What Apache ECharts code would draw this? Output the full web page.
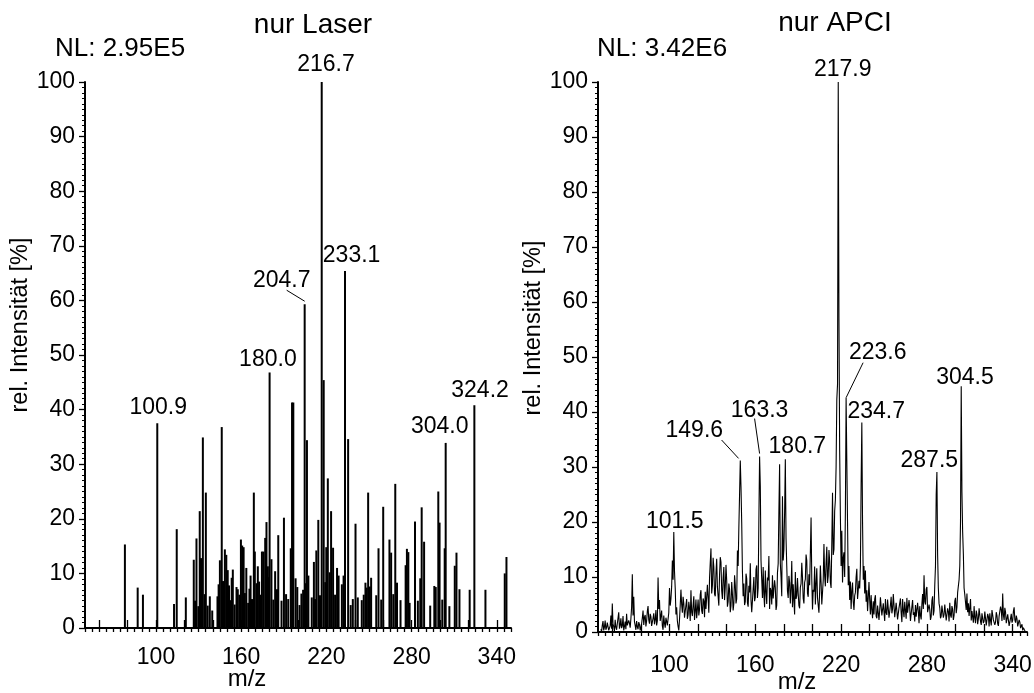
<!DOCTYPE html>
<html><head><meta charset="utf-8">
<script src="https://cdn.jsdelivr.net/npm/echarts@6/dist/echarts.min.js"></script>
<style>html,body{margin:0;padding:0;background:#fff}#c{width:1034px;height:693px}</style>
</head><body><div id="c"></div>
<script>
// ---------- DATA ----------
const titles = ['nur Laser', 'nur APCI'];
const nlTexts = ['NL: 2.95E5', 'NL: 3.42E6'];
const xAxisName = 'm/z';
const yAxisName = 'rel. Intensität [%]';
const xTickLabels = [100, 160, 220, 280, 340];
const xMajorTicks = [60, 80, 100, 120, 140, 160, 180, 200, 220, 240, 260, 280, 300, 320, 340];

// left panel: centroid (stick) spectrum
const laserMz = [78.1, 87.1, 90.8, 100.9, 112.7, 114.6, 121.0, 126.6, 127.5, 128.5, 129.8, 130.8, 131.7, 133.0, 135.1, 137.9, 143.3, 145.0, 146.3, 147.2, 148.5, 149.5, 150.5, 151.4, 154.1, 156.7, 157.6, 158.7, 159.8, 160.7, 161.7, 163.6, 166.6, 168.9, 169.6, 170.8, 171.7, 172.6, 174.6, 175.7, 176.9, 177.8, 178.8, 180.0, 181.3, 186.1, 190.1, 194.9, 195.8, 196.7, 199.5, 203.6, 204.7, 206.3, 207.3, 212.0, 212.9, 214.3, 216.7, 218.1, 219.2, 219.9, 221.0, 223.3, 224.7, 227.5, 228.6, 232.1, 233.1, 235.3, 240.5, 242.1, 246.3, 247.5, 248.4, 249.4, 250.6, 251.5, 256.7, 260.0, 264.4, 265.6, 268.5, 269.7, 275.8, 276.7, 277.7, 278.6, 282.4, 286.1, 287.1, 288.8, 296.0, 297.0, 298.8, 299.7, 303.3, 304.0, 310.4, 311.6, 313.7, 320.9, 324.2, 332.0, 345.6, 346.8,
  132.2, 134.2, 136.4, 139.6, 144.1, 152.7, 153.3, 155.4, 162.6, 164.9, 165.8, 167.6, 173.6, 179.4, 182.6, 183.9, 185.2, 188.4, 191.6, 193.1, 198.3, 201.1, 202.4, 205.6, 209.7, 211.2, 215.5, 222.3, 226.1, 230.9, 237.1, 238.6, 244.9, 255.1, 258.6, 267.1, 272.2, 284.4, 293.1, 301.6, 306.6];
const laserInt = [15.3, 7.4, 6.1, 37.5, 4.4, 18.1, 5.6, 12.5, 5.0, 16.4, 4.0, 21.4, 12.8, 34.9, 24.8, 5.8, 5.8, 12.4, 36.8, 8.6, 14.4, 13.4, 10.6, 7.8, 10.7, 7.5, 7.1, 6.1, 16.2, 15.1, 14.8, 11.0, 9.6, 24.8, 14.0, 8.2, 11.3, 8.5, 14.0, 14.0, 16.5, 19.4, 11.3, 46.8, 12.6, 17.0, 20.2, 14.6, 41.3, 41.3, 7.5, 7.0, 59.3, 34.4, 9.6, 5.3, 14.2, 19.8, 100, 45.4, 8.4, 14.8, 27.4, 21.4, 14.7, 11.0, 9.6, 9.6, 65.4, 34.6, 19.1, 5.6, 6.1, 8.3, 7.4, 24.8, 7.6, 9.2, 14.6, 22.2, 16.2, 13.8, 26.4, 8.3, 11.5, 14.5, 13.9, 4.6, 19.5, 9.1, 22.1, 15.8, 7.7, 7.5, 25.0, 19.3, 14.6, 33.9, 11.4, 13.8, 7.1, 7.0, 40.8, 7.0, 10.0, 13.0,
  9.0, 6.2, 4.1, 3.2, 8.0, 5.1, 9.2, 4.3, 6.4, 4.6, 7.2, 5.3, 6.1, 9.3, 5.2, 10.4, 7.1, 5.0, 6.2, 5.3, 9.1, 4.2, 6.3, 8.2, 5.6, 12.1, 6.0, 10.2, 6.1, 8.0, 4.2, 5.3, 5.1, 6.0, 5.2, 6.2, 5.1, 5.0, 4.1, 5.2, 4.0];
const laserPeakLabels = [100.9, 180.0, 204.7, 216.7, 233.1, 304.0, 324.2];

// right panel: profile spectrum sampled every 0.5 m/z from 52.0 to 349.5
const apciMzStart = 52;
const apciMzStep = 0.5;
const apciInt = [
0.5,0.1, 1.2,2.0, 0.3,0.9, 2.1,0.4, 0.8,1.7, 1.5,0.3, 0.2,1.1, 3.0,0.6, 5.2,1.4, 1.0,0.2,
2.2,0.9, 0.4,1.5, 1.8,3.6, 0.6,1.2, 2.5,0.7, 1.1,2.9, 0.3,1.0, 1.9,0.5, 3.3,1.2, 0.9,2.1,
1.6,0.8, 2.4,4.5, 10.5,3.0, 6.4,1.9, 1.2,0.4, 2.0,1.0, 0.5,1.8, 1.4,0.3, 0.2,1.5, 2.6,3.9,
1.3,2.7, 3.1,1.0, 2.0,3.8, 4.7,2.2, 1.5,3.3, 2.8,1.1, 1.0,2.5, 3.4,1.4, 2.2,4.0, 1.2,2.0,
9.9,4.2, 5.8,2.0, 2.3,3.9, 1.1,0.4, 3.0,1.6, 0.8,2.6, 2.4,1.2, 1.0,3.5, 8.0,4.8, 6.0,8.2,
13.0,9.5, 18.2,11.0, 8.0,3.2, 4.5,2.0, 1.0,0.3, 2.3,4.8, 7.7,5.0, 3.5,6.4, 5.2,2.6, 2.8,4.9,
6.0,2.4, 3.1,5.5, 4.4,2.0, 7.6,3.6, 2.9,4.8, 6.5,2.2, 3.8,5.9, 2.5,4.1, 5.9,3.0, 4.1,6.8,
7.6,3.9, 3.3,6.1, 5.6,2.7, 7.3,4.2, 4.0,8.6, 6.2,3.5, 9.8,12.6, 15.2,7.0, 8.4,13.5, 11.8,6.9,
6.5,10.8, 13.3,8.2, 7.9,4.8, 10.4,13.6, 12.7,7.5, 6.0,9.9, 11.8,5.8, 8.2,12.2, 9.4,4.6, 5.5,8.8,
7.7,3.6, 4.8,9.1, 6.9,3.9, 5.2,10.3, 8.5,5.2, 6.0,14.8, 12.0,19.0, 25.0,31.2, 26.4,19.9, 11.0,6.5,
8.8,4.9, 5.5,10.6, 9.7,5.3, 4.6,8.4, 7.2,12.5, 5.8,3.6, 3.9,7.8, 10.0,5.6, 6.3,11.4, 12.1,6.2,
8.0,20.5, 31.9,26.6, 13.0,9.5, 6.2,11.8, 6.8,4.5, 11.2,7.3, 5.1,9.9, 9.4,13.8, 4.2,8.0, 7.5,5.0,
10.3,6.1, 5.8,9.4, 8.1,4.0, 4.9,10.8, 12.4,22.0, 30.5,12.5, 10.0,6.5, 24.7,13.0, 15.0,21.8, 31.4,17.0,
12.0,7.4, 6.2,10.2, 9.0,5.2, 7.9,12.9, 4.5,8.7, 5.8,3.2, 10.9,6.0, 6.6,9.8, 7.0,4.8, 4.3,8.1,
8.8,12.6, 10.0,6.1, 5.2,9.0, 9.6,14.1, 13.0,7.0, 6.4,10.5, 8.5,14.5, 20.8,9.6, 4.1,7.7, 7.3,11.9,
5.0,8.8, 11.6,6.2, 6.1,3.5, 7.4,12.1, 9.0,5.0, 5.3,9.4, 16.0,10.2, 8.3,12.6, 15.5,8.9, 10.2,14.9,
13.0,9.0, 8.0,16.2, 25.3,14.0, 15.0,22.0, 24.0,30.0, 42.3,45.0, 100,56.8, 32.9,21.1, 12.0,18.4, 9.0,13.5,
14.5,10.0, 22.0,42.6, 31.1,20.0, 8.5,12.0, 5.8,9.2, 4.2,7.5, 9.0,5.5, 4.0,6.6, 7.2,10.0, 11.5,6.0,
6.0,9.3, 7.9,12.0, 26.9,38.1, 20.0,9.5, 12.0,7.0, 11.2,5.5, 7.6,3.8, 6.3,9.1, 5.8,3.2, 6.7,4.0,
2.5,5.6, 3.2,6.0, 6.7,2.9, 2.5,4.8, 4.9,2.2, 4.0,6.3, 6.1,3.0, 2.8,5.2, 5.4,2.0, 6.0,3.5,
3.1,5.9, 5.6,2.6, 2.4,4.9, 6.4,3.4, 4.2,6.9, 6.8,2.7, 3.0,5.3, 5.1,2.3, 2.2,4.4, 4.6,6.1,
3.5,1.8, 6.0,3.9, 2.7,5.5, 5.2,2.4, 6.2,3.5, 3.3,5.8, 4.4,2.0, 2.1,4.6, 5.8,3.1, 3.6,1.9,
4.9,2.8, 2.6,5.3, 3.8,1.6, 4.7,3.0, 2.3,5.1, 6.9,4.2, 10.3,5.5, 5.0,7.8, 8.2,3.6, 3.4,5.0,
4.1,2.2, 2.8,5.7, 6.5,3.0, 3.9,8.5, 12.0,25.0, 29.1,14.0, 8.0,5.2, 4.4,2.5, 2.9,4.8, 5.0,2.6,
3.2,5.0, 4.8,2.1, 2.0,4.3, 3.7,1.9, 5.3,3.1, 2.6,4.7, 4.1,2.2, 3.0,5.6, 6.2,3.4, 4.5,7.2,
7.0,9.5, 12.0,20.0, 44.7,25.4, 18.2,14.2, 8.0,6.8, 7.0,4.0, 7.0,3.6, 5.2,2.9, 4.4,6.0, 2.1,3.8,
3.8,1.7, 4.7,2.6, 1.6,3.9, 3.2,1.4, 2.4,4.3, 4.0,1.9, 1.3,3.4, 3.5,1.6, 2.0,3.7, 3.9,1.2,
1.5,3.3, 2.8,1.0, 3.4,2.1, 1.2,4.0, 4.2,2.2, 2.5,1.3, 1.8,3.6, 3.0,1.5, 1.1,2.9, 2.7,4.6,
4.0,2.0, 7.0,3.1, 2.2,4.4, 3.6,1.6, 1.4,3.2, 2.9,1.1, 1.0,2.5, 3.3,1.7, 2.1,3.8, 4.5,2.2,
1.7,3.0, 2.4,1.0, 0.9,2.2, 1.8,0.7, 0.6,1.4, 0.3,0.8, 0.5,0.2, 0.1,0.0
];
const apciPeakLabels = [101.5, 149.6, 163.3, 180.7, 217.9, 223.6, 234.7, 287.5, 304.5];

// ---------- LAYOUT / STYLE (pixel offsets of peak annotations) ----------
const FONT = '"Liberation Sans", Arial, Helvetica, sans-serif';
const laserLabelLayout = {
  '100.9': {dx: 1, dy: -15.6},
  '180.0': {dx: -1.7, dy: -13.2},
  '204.7': {dx: -23, dy: -24, leader: [0, -3, -18, -14]},
  '216.7': {dx: 4.3, dy: -17},
  '233.1': {dx: 6.6, dy: -15.7},
  '304.0': {dx: -6, dy: -16},
  '324.2': {dx: 5.7, dy: -15}
};
const apciLabelLayout = {
  '101.5': {dx: 1, dy: -10},
  '149.6': {dx: -46, dy: -30, leader: [-1.7, -2, -18.7, -20.4]},
  '163.3': {dx: 0, dy: -46, leader: [0, -3, -5, -38]},
  '180.7': {dx: 12, dy: -12.6},
  '217.9': {dx: 4.5, dy: -12},
  '223.6': {dx: 31.6, dy: -44.7, leader: [0, 0, 17, -35]},
  '234.7': {dx: 14.4, dy: -10.7},
  '287.5': {dx: -7.6, dy: -11},
  '304.5': {dx: 3.8, dy: -8}
};

// ---------- BUILD ----------
const laserData = laserMz.map((m, i) => [m, laserInt[i]]);
const apciData = apciInt.map((v, i) => [apciMzStart + i * apciMzStep, v]);

function laserApex(label) {
  const i = laserMz.findIndex(m => Math.abs(m - label) < 0.05);
  return [laserMz[i], laserInt[i], label];
}
function apciApex(label) {
  let best = null;
  apciData.forEach(p => {
    if (Math.abs(p[0] - label) <= 1.6 && (!best || p[1] > best[1])) best = p;
  });
  return [best[0], best[1], label];
}

function labelSeries(xi, yi, data, layout) {
  return {
    type: 'custom', xAxisIndex: xi, yAxisIndex: yi, data: data, clip: false, z: 10, silent: true,
    renderItem: function (params, api) {
      const pt = api.coord([api.value(0), api.value(1)]);
      const lab = api.value(2).toFixed(1);
      const L = layout[lab];
      const children = [{
        type: 'text', x: pt[0] + L.dx, y: pt[1] + L.dy,
        style: {text: lab, fontSize: 23, fontFamily: FONT, fill: '#000', align: 'center', verticalAlign: 'middle'}
      }];
      if (L.leader) {
        children.push({
          type: 'line',
          shape: {x1: pt[0] + L.leader[0], y1: pt[1] + L.leader[1], x2: pt[0] + L.leader[2], y2: pt[1] + L.leader[3]},
          style: {stroke: '#000', lineWidth: 1}
        });
      }
      return {type: 'group', children: children};
    }
  };
}

function xAxes(g, labelMargin) {
  return [{
    type: 'value', gridIndex: g, min: 50, max: 350, interval: 5,
    axisLine: {show: true, onZero: false, lineStyle: {color: '#000', width: 2}},
    axisTick: {show: true, length: 4, lineStyle: {color: '#000', width: 1.3}},
    axisLabel: {color: '#000', fontSize: 23, fontFamily: FONT, margin: labelMargin,
      formatter: v => (xTickLabels.indexOf(Math.round(v)) >= 0 && Math.abs(v - Math.round(v)) < 1e-6) ? String(Math.round(v)) : ''},
    splitLine: {show: false}
  }, {
    type: 'value', gridIndex: g, min: 50, max: 350, interval: 5,
    axisLine: {show: false},
    axisTick: {show: true, length: 8, customValues: xMajorTicks, lineStyle: {color: '#000', width: 1.3}},
    axisLabel: {show: false},
    splitLine: {show: false}
  }];
}
function yAxis(g, gap, padLeft) {
  return {
    type: 'value', gridIndex: g, min: 0, max: 100, interval: 10,
    axisLine: {show: true, onZero: false, lineStyle: {color: '#000', width: 2}},
    axisTick: {show: true, length: 6, lineStyle: {color: '#000', width: 1.3}},
    minorTick: {show: true, splitNumber: 10, length: 3, lineStyle: {color: '#000', width: 1}},
    axisLabel: {color: '#000', fontSize: 23, fontFamily: FONT, margin: 10},
    splitLine: {show: false}, minorSplitLine: {show: false},
    name: yAxisName, nameLocation: 'middle', nameGap: gap,
    nameTextStyle: {color: '#000', fontSize: 23.5, fontFamily: FONT, padding: [0, 0, 0, padLeft]}
  };
}

function txt(x, y, s, size, align) {
  return {type: 'text', x: x, y: y, style: {text: s, fontSize: size, fontFamily: FONT, fill: '#000', align: align, verticalAlign: 'middle'}};
}

const chart = echarts.init(document.getElementById('c'), null, {renderer: 'canvas'});
chart.setOption({
  animation: false,
  backgroundColor: '#fff',
  grid: [
    {left: 85, top: 82, width: 426, height: 546, containLabel: false, outerBoundsMode: 'none'},
    {left: 598, top: 82, width: 429, height: 550, containLabel: false, outerBoundsMode: 'none'}
  ],
  xAxis: [].concat(xAxes(0, 18), xAxes(1, 22)),
  yAxis: [yAxis(0, 50, 60), yAxis(1, 45, 58)],
  graphic: [
    txt(313, 25, titles[0], 28, 'center'),
    txt(835, 23.5, titles[1], 28, 'center'),
    txt(55, 49, nlTexts[0], 26, 'left'),
    txt(597, 49, nlTexts[1], 26, 'left'),
    txt(247, 679, xAxisName, 24, 'center'),
    txt(797, 682, xAxisName, 24, 'center')
  ],
  series: [
    {type: 'bar', name: 'nur Laser', xAxisIndex: 0, yAxisIndex: 0, data: laserData, barWidth: 2,
      itemStyle: {color: '#000'}, silent: true},
    labelSeries(0, 0, laserPeakLabels.map(laserApex), laserLabelLayout),
    {type: 'line', name: 'nur APCI', xAxisIndex: 2, yAxisIndex: 1, data: apciData, showSymbol: false,
      lineStyle: {color: '#000', width: 1.1}, silent: true},
    labelSeries(2, 1, apciPeakLabels.map(apciApex), apciLabelLayout)
  ]
});
</script>
</body></html>
